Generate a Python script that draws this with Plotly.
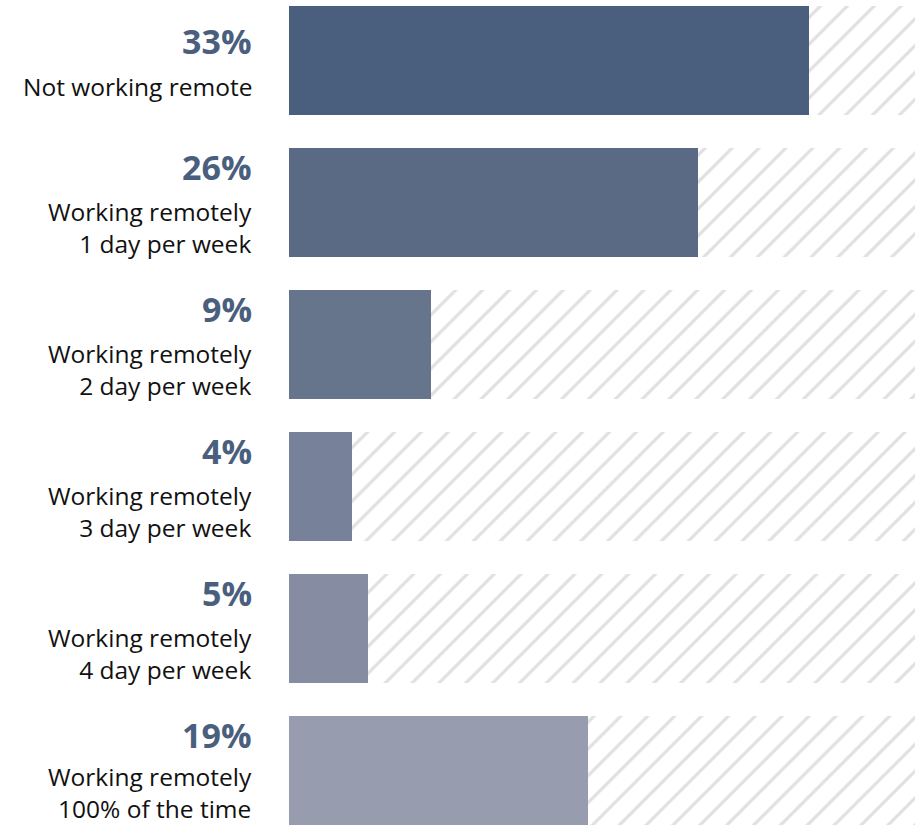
import plotly.graph_objects as go

# Share of respondents by remote-work frequency
categories = [
    "Not working remote",
    "Working remotely<br>1 day per week",
    "Working remotely<br>2 day per week",
    "Working remotely<br>3 day per week",
    "Working remotely<br>4 day per week",
    "Working remotely<br>100% of the time",
]
values = [33, 26, 9, 4, 5, 19]
bar_colors = ["#4a5f7e", "#5a6a85", "#67758c", "#778199", "#868da3", "#979caf"]

X_MAX = 39.75
BAR_W = 0.768
FONT = "'Open Sans', Lato, sans-serif"
PCT_COLOR = "#4a5f7e"

ypos = list(range(len(categories)))

fig = go.Figure()

# hatched track behind each bar
fig.add_trace(go.Bar(
    x=[X_MAX] * len(categories), y=ypos, orientation="h", width=BAR_W,
    marker=dict(
        color="white", line=dict(width=0),
        pattern=dict(shape="/", size=19, solidity=0.16, fgcolor="#e0e0e0",
                     bgcolor="white", fillmode="replace"),
    ),
    hoverinfo="skip", showlegend=False,
))

# value bars
fig.add_trace(go.Bar(
    x=values, y=ypos, orientation="h", width=BAR_W,
    marker=dict(color=bar_colors, line=dict(width=0)),
    showlegend=False,
))

annotations = []
last = len(categories) - 1
for i, (cat, v) in enumerate(zip(categories, values)):
    two_line = "<br>" in cat
    annotations.append(dict(
        x=0, xref="paper", y=i, yref="y", xanchor="right", yanchor="middle",
        xshift=-36, yshift=35 if two_line else 19,
        text=f"<b>{v}%</b>", showarrow=False, align="right", borderpad=0,
        font=dict(family=FONT, size=34, color=PCT_COLOR),
    ))
    # bottom row lifted slightly so its second line stays inside the page
    annotations.append(dict(
        x=0, xref="paper", y=i, yref="y", xanchor="right", yanchor="middle",
        xshift=-36, yshift=-22 if i == last else (-25 if two_line else -26.5),
        text=cat, showarrow=False, align="right", borderpad=0,
        font=dict(family=FONT, size=24.5, color="#111111"),
    ))

fig.update_layout(
    width=915, height=825,
    margin=dict(l=289, r=0, t=0, b=0),
    paper_bgcolor="white", plot_bgcolor="white",
    barmode="overlay", bargap=0,
    annotations=annotations,
    xaxis=dict(range=[0, X_MAX], visible=False, fixedrange=True),
    yaxis=dict(range=[5.384, -0.426], visible=False, fixedrange=True),
)

fig.write_html("out.html")
